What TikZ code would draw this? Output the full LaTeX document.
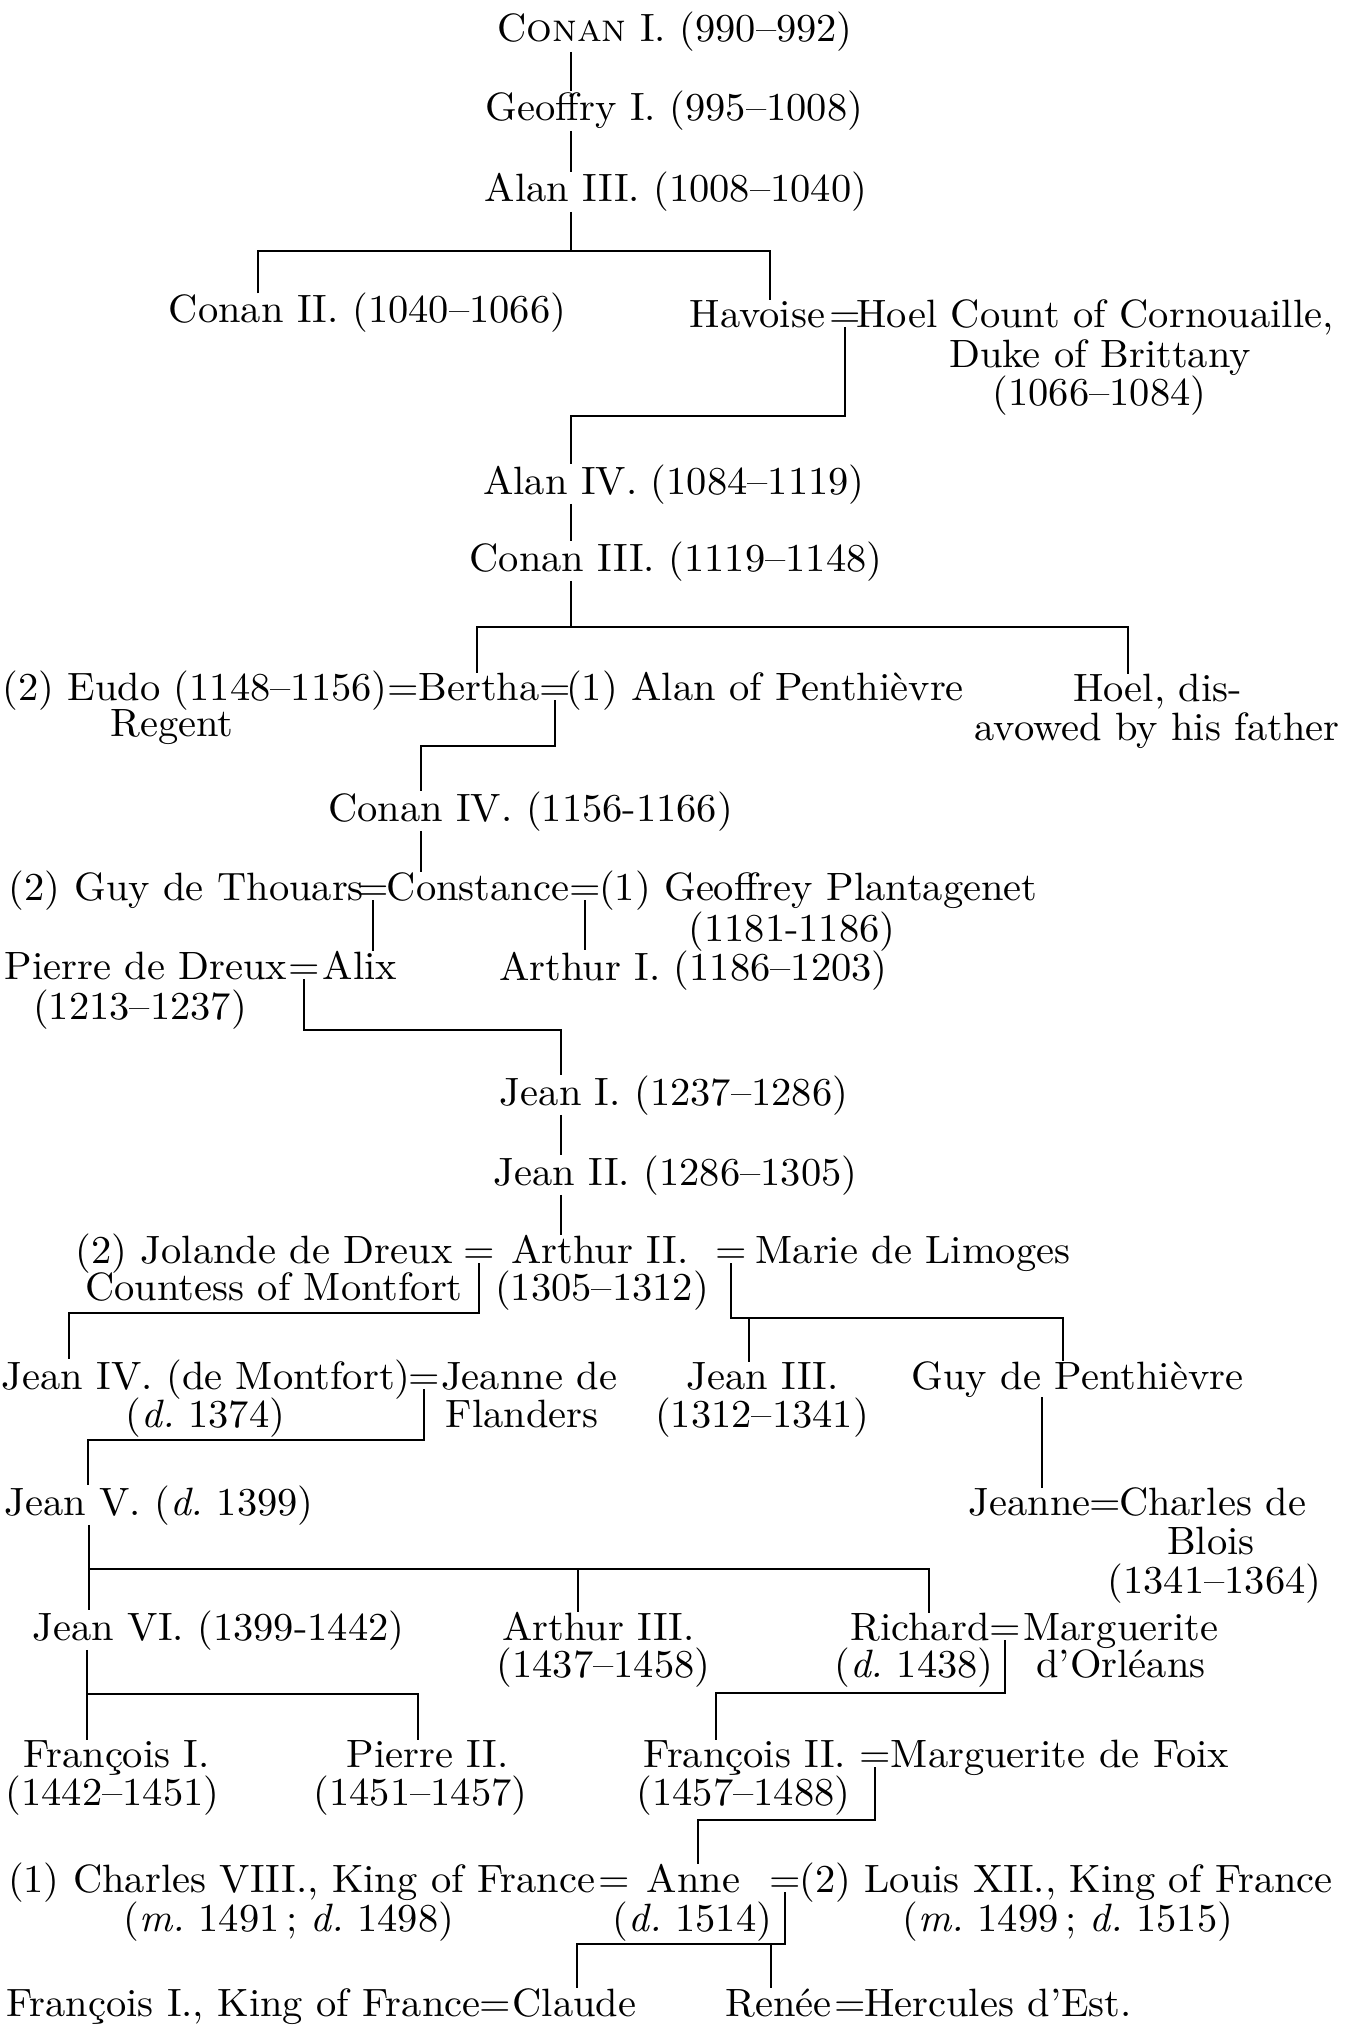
\documentclass[tikz,border=0pt]{standalone}
\usepackage{fontspec}
\setmainfont{lmroman10-regular.otf}[ItalicFont=lmroman10-italic.otf, BoldFont=lmroman10-bold.otf, FakeStretch=1.025]
\newfontfamily\capsfont{lmromancaps10-regular.otf}[FakeStretch=1.025]
\newcommand\dfont{\fontsize{39.5}{38}\selectfont}
\tikzset{
  p/.style={inner sep=0pt, outer sep=0pt, anchor=base, font=\dfont},
  pw/.style={p, anchor=base west},
  ln/.style={line width=1.8pt, line cap=butt}
}
\begin{document}
\begin{tikzpicture}[x=1pt,y=-1pt]
\useasboundingbox (0,0) rectangle (1347,2025);
% ---------- nodes ----------
\node[p] (conan1) at (675,42) {C{\capsfont onan} I.\ (990–992)};
\node[p] (geoffry) at (674.5,121) {Geoffry I.\ (995–1008)};
\node[p] (alan3) at (676,202) {Alan III.\ (1008–1040)};
\node[p] (conan2) at (367.5,323) {Conan II.\ (1040–1066)};
\node[p] (havoise) at (757.5,327) {Havoise};
\node[p] (eqa) at (845,327) {=};
\node[p] (hoel) at (1095,327) {Hoel Count of Cornouaille,};
\node[p] (hoelb) at (1100,367) {Duke of Brittany};
\node[p] (hoelc) at (1099.5,405) {(1066–1084)};
\node[p] (alan4) at (674,494) {Alan IV.\ (1084–1119)};
\node[p] (conan3) at (676,571) {Conan III.\ (1119–1148)};
\node[p] (eudo) at (195,700) {(2) Eudo (1148–1156)};
\node[p] (eqb1) at (403,700) {=};
\node[p] (bertha) at (479,700) {Bertha};
\node[p] (eqb2) at (555,700) {=};
\node[p] (alanp) at (765,700) {(1) Alan of Penthièvre};
\node[p] (eudob) at (172,736) {Regent};
\node[p] (hoeld) at (1157.5,701) {Hoel, dis-};
\node[p] (hoeldb) at (1157,740) {avowed by his father};
\node[p] (conan4) at (530.5,821) {Conan IV.\ (1156-1166)};
\node[pw] (guy) at (9,900) {(2) Guy de Thouars};
\node[p] (eqc1) at (373,900) {=};
\node[p] (constance) at (478,900) {Constance};
\node[p] (eqc2) at (585,900) {=};
\node[pw] (geoffp) at (599,900) {(1) Geoffrey Plantagenet};
\node[p] (geoffpb) at (792,941) {(1181-1186)};
\node[p] (pierre) at (146,979) {Pierre de Dreux};
\node[p] (eqd) at (304,979) {=};
\node[p] (alix) at (360,979) {Alix};
\node[p] (pierreb) at (140,1019) {(1213–1237)};
\node[p] (arthur1) at (693.5,980) {Arthur I.\ (1186–1203)};
\node[p] (jean1) at (674,1105) {Jean I.\ (1237–1286)};
\node[p] (jean2) at (675.5,1185) {Jean II.\ (1286–1305)};
\node[p] (jolande) at (264,1263) {(2) Jolande de Dreux};
\node[p] (eqe1) at (479,1263) {=};
\node[p] (arthur2) at (600,1263) {Arthur II.};
\node[p] (eqe2) at (731,1263) {=};
\node[p] (marie) at (913,1263) {Marie de Limoges};
\node[p] (jolandeb) at (274,1300) {Countess of Montfort};
\node[p] (arthur2b) at (602,1300) {(1305–1312)};
\node[p] (jean4) at (206,1389) {Jean IV.\ (de Montfort)};
\node[p] (eqf) at (424,1389) {=};
\node[p] (jeannef) at (529,1389) {Jeanne de};
\node[p] (jean4b) at (205.5,1427) {(\textit{d.}\ 1374)};
\node[p] (jeannefb) at (522,1427) {Flanders};
\node[p] (jean3) at (762.5,1389) {Jean III.};
\node[p] (jean3b) at (762,1427) {(1312–1341)};
\node[p] (guyp) at (1077.5,1389) {Guy de Penthièvre};
\node[p] (jean5) at (159,1515) {Jean V.\ (\textit{d.}\ 1399)};
\node[p] (jeanne) at (1029.5,1515) {Jeanne};
\node[p] (eqg) at (1105,1515) {=};
\node[p] (charles) at (1212.5,1515) {Charles de};
\node[p] (charlesb) at (1211,1554) {Blois};
\node[p] (charlesc) at (1214.5,1593) {(1341–1364)};
\node[p] (jean6) at (218.5,1640) {Jean VI.\ (1399-1442)};
\node[p] (arthur3) at (598.5,1640) {Arthur III.};
\node[p] (arthur3b) at (603.5,1677) {(1437–1458)};
\node[p] (richard) at (920,1640) {Richard};
\node[p] (eqh) at (1005,1640) {=};
\node[p] (marguo) at (1121,1640) {Marguerite};
\node[p] (richardb) at (914,1677) {(\textit{d.}\ 1438)};
\node[p] (marguob) at (1121,1677) {d’Orléans};
\node[p] (fran1) at (116.5,1767) {François I.};
\node[p] (fran1b) at (112.5,1805) {(1442–1451)};
\node[p] (pierre2) at (427.5,1767) {Pierre II.};
\node[p] (pierre2b) at (420.5,1805) {(1451–1457)};
\node[p] (fran2) at (745,1767) {François II.};
\node[p] (eqi) at (875,1767) {=};
\node[p] (margf) at (1060,1767) {Marguerite de Foix};
\node[p] (fran2b) at (743.5,1805) {(1457–1488)};
\node[p] (charles8) at (301.5,1892) {(1) Charles VIII., King of France};
\node[p] (eqj1) at (614,1892) {=};
\node[p] (anne) at (693.5,1892) {Anne};
\node[p] (eqj2) at (785,1892) {=};
\node[p] (louis) at (1066,1892) {(2) Louis XII., King of France};
\node[p] (charles8b) at (289,1931) {(\textit{m.}\ 1491\,; \textit{d.}\ 1498)};
\node[p] (anneb) at (692.5,1931) {(\textit{d.}\ 1514)};
\node[p] (louisb) at (1068,1931) {(\textit{m.}\ 1499\,; \textit{d.}\ 1515)};
\node[p] (francis) at (243.5,2016) {François I., King of France};
\node[p] (eqk1) at (495,2016) {=};
\node[p] (claude) at (574.5,2016) {Claude};
\node[p] (renee) at (778.5,2016) {Renée};
\node[p] (eqk2) at (850,2016) {=};
\node[p] (hercules) at (998,2016) {Hercules d’Est.};
% ---------- coordinates ----------
\coordinate (va) at (571,0);
\coordinate (b1l) at (258,251);
\coordinate (b1r) at (770,251);
\coordinate (b2) at (571,416);
\coordinate (b3l) at (477,627);
\coordinate (b3r) at (1128,627);
\coordinate (b4) at (421,746);
\coordinate (b5) at (561,1030);
\coordinate (vj) at (561,0);
\coordinate (b6) at (69,1313);
\coordinate (b7l) at (749,1318);
\coordinate (b7r) at (1063,1318);
\coordinate (b8) at (88,1440);
\coordinate (vg) at (1042,0);
\coordinate (b9l) at (89,1569);
\coordinate (b9m) at (578,1569);
\coordinate (b9r) at (929,1569);
\coordinate (b10l) at (87,1694);
\coordinate (b10r) at (418,1694);
\coordinate (b11) at (716,1693);
\coordinate (b12) at (698,1820);
\coordinate (b13l) at (577,1944);
\coordinate (b13r) at (771,1944);
% ---------- connectors ----------
\draw[ln] (conan1.south -| va) -- (geoffry.north -| va);
\draw[ln] (geoffry.south -| va) -- (alan3.north -| va);
\draw[ln] (alan3.south -| va) -- (va |- b1l);
\draw[ln] (conan2.north -| b1l) -- (b1l) -- (b1r) -- (havoise.north -| b1r);
\draw[ln] (eqa.south) |- (b2) -- (alan4.north -| b2);
\draw[ln] (alan4.south -| va) -- (conan3.north -| va);
\draw[ln] (conan3.south -| va) -- (va |- b3l);
\draw[ln] (bertha.north -| b3l) -- (b3l) -- (b3r) -- (hoeld.north -| b3r);
\draw[ln] (eqb2.south) |- (b4) -- (conan4.north -| b4);
\draw[ln] (conan4.south -| b4) -- (constance.north -| b4);
\draw[ln] (eqc1.south) -- (alix.north -| eqc1);
\draw[ln] (eqc2.south) -- (arthur1.north -| eqc2);
\draw[ln] (eqd.south) |- (b5) -- (jean1.north -| b5);
\draw[ln] (jean1.south -| vj) -- (jean2.north -| vj);
\draw[ln] (jean2.south -| vj) -- (arthur2.north -| vj);
\draw[ln] (eqe1.south) |- (b6) -- (jean4.north -| b6);
\draw[ln] (eqe2.south) |- (b7r) -- (guyp.north -| b7r);
\draw[ln] (b7l) -- (jean3.north -| b7l);
\draw[ln] (eqf.south) |- (b8) -- (jean5.north -| b8);
\draw[ln] (guyp.south -| vg) -- (jeanne.north -| vg);
\draw[ln] (jean5.south -| b9l) -- (b9l) -- (b9r) -- (richard.north -| b9r);
\draw[ln] (b9l) -- (jean6.north -| b9l);
\draw[ln] (b9m) -- (arthur3.north -| b9m);
\draw[ln] (jean6.south -| b10l) -- (b10l) -- (b10r) -- (pierre2.north -| b10r);
\draw[ln] (b10l) -- (fran1.north -| b10l);
\draw[ln] (eqh.south) |- (b11) -- (fran2.north -| b11);
\draw[ln] (eqi.south) |- (b12) -- (anne.north -| b12);
\draw[ln] (eqj2.south) |- (b13l) -- (claude.north -| b13l);
\draw[ln] (b13r) -- (renee.north -| b13r);
\end{tikzpicture}
\end{document}
